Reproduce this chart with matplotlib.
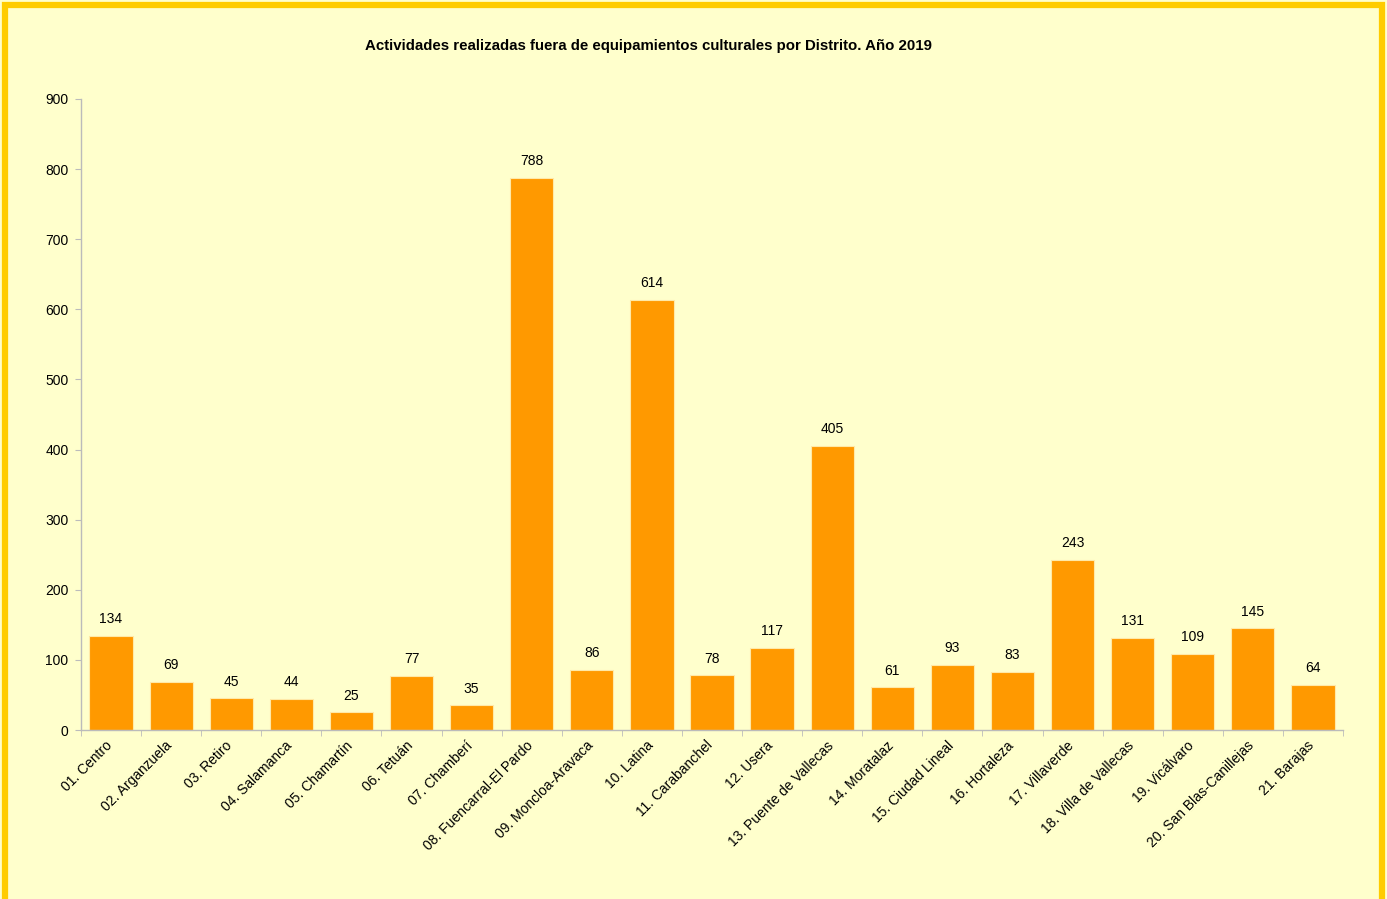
import numpy as np
import matplotlib.pyplot as plt
import matplotlib.transforms as mtransforms
from matplotlib.patches import Rectangle

distritos = ['01. Centro', '02. Arganzuela', '03. Retiro', '04. Salamanca', '05. Chamartín',
             '06. Tetuán', '07. Chamberí', '08. Fuencarral-El Pardo', '09. Moncloa-Aravaca',
             '10. Latina', '11. Carabanchel', '12. Usera', '13. Puente de Vallecas',
             '14. Moratalaz', '15. Ciudad Lineal', '16. Hortaleza', '17. Villaverde',
             '18. Villa de Vallecas', '19. Vicálvaro', '20. San Blas-Canillejas', '21. Barajas']
actividades = [134, 69, 45, 44, 25, 77, 35, 788, 86, 614, 78, 117, 405, 61, 93, 83, 243, 131, 109, 145, 64]
yticks = [0, 100, 200, 300, 400, 500, 600, 700, 800, 900]

plt.rcParams['font.family'] = ['Liberation Sans', 'DejaVu Sans']

W, H = 1387, 899
fig = plt.figure(figsize=(W / 100, H / 100), dpi=100)
fig.patch.set_facecolor('#FFFFCC')

# gold frame around the chart area
fig.patches.append(Rectangle((5 / W, -0.05), (W - 10) / W, 1.05 - 5 / H, transform=fig.transFigure,
                             fill=False, edgecolor='#FFCC00', linewidth=4.5))

ax = fig.add_axes([81 / W, 1 - 730 / H, (1343 - 81) / W, (730 - 99) / H])
ax.set_facecolor('#FFFFCC')

x = np.arange(len(distritos))
bars = ax.bar(x, actividades, width=0.72, color='#FF9900', edgecolor='#FFE9A8', linewidth=0.8)

for xi, v in zip(x, actividades):
    ax.annotate(str(v), (xi, v), xytext=(0, 7), textcoords='offset points',
                ha='center', va='bottom', fontsize=10, color='black')

ax.set_xlim(-0.5, len(distritos) - 0.5)
ax.set_ylim(0, 900)
ax.set_yticks(yticks)
ax.set_yticklabels([str(t) for t in yticks], fontsize=10)
ax.tick_params(axis='y', length=4, color='#BBBBBB', pad=5)

ax.set_xticks(x)
ax.set_xticklabels(distritos, rotation=45, ha='right', rotation_mode='anchor', fontsize=10)
ax.tick_params(axis='x', length=0, pad=6)
# nudge the rotated labels a little to the left
shift = mtransforms.ScaledTranslation(-6 / 100, 0, fig.dpi_scale_trans)
for lbl in ax.get_xticklabels():
    lbl.set_transform(lbl.get_transform() + shift)
ax.set_xticks(np.arange(len(distritos) + 1) - 0.5, minor=True)
ax.tick_params(axis='x', which='minor', length=4, color='#BBBBBB')

for s in ['top', 'right']:
    ax.spines[s].set_visible(False)
for s in ['left', 'bottom']:
    ax.spines[s].set_color('#BBBBBB')
    ax.spines[s].set_linewidth(1)

fig.text(648 / W, 1 - 46 / H, 'Actividades realizadas fuera de equipamientos culturales por Distrito. Año 2019',
         ha='center', va='center', fontsize=10.8, fontweight='bold')

fig.savefig('out.png', dpi=100, facecolor=fig.get_facecolor())
